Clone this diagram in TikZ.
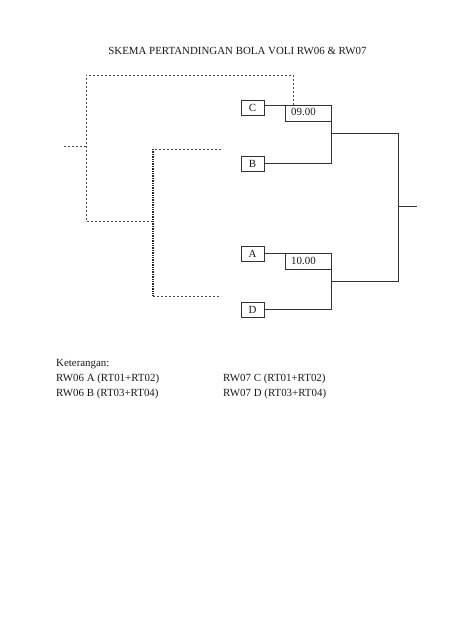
\documentclass[tikz,border=0pt]{standalone}
\usepackage{fontspec}
\setmainfont{Liberation Serif}
\begin{document}
\begin{tikzpicture}[x=1pt,y=-1pt,
  every node/.style={font=\fontsize{10.9}{12}\selectfont, text=black!90},
  team/.style={draw=black!80, line width=0.8pt, minimum width=23pt, minimum height=15pt, inner sep=0pt},
  score/.style={draw=black!80, line width=0.8pt, minimum width=46pt, minimum height=16pt, inner sep=0pt, anchor=north west},
  conn/.style={draw=black!80, line width=0.8pt},
  dashconn/.style={draw=black!70, line width=0.9pt, dash pattern=on 2pt off 2pt},
  dotconn/.style={draw=black!85, line width=1.2pt, dash pattern=on 1.3pt off 1.1pt},
  txt/.style={anchor=base west, inner sep=0pt}]
\useasboundingbox (0,0) rectangle (474,632);

\node[anchor=base, inner sep=0pt] (title) at (237.5,54) {SKEMA PERTANDINGAN BOLA VOLI RW06 \& RW07};

% teams
\node[team] (C) at (252.5,107.5) {C};
\node[team] (B) at (252.5,163.5) {B};
\node[team] (A) at (252.5,253.5) {A};
\node[team] (D) at (252.5,309.5) {D};

% score boxes
\node[score] (s1) at (285,105) {};
\node[txt] (t1) at (291,115.5) {09.00};
\node[score] (s2) at (285,253) {};
\node[txt] (t2) at (291,264) {10.00};

% bracket coordinates
\coordinate (m1) at (331,133.5);
\coordinate (m2) at (331,281);
\coordinate (f1) at (398,133.5);
\coordinate (f2) at (398,281);
\coordinate (fm) at (398,206);
\coordinate (out) at (417,206);

\draw[conn] (C.east |- s1.north) -- (s1.north east) -- (B.east -| s1.north east) -- (B.east);
\draw[conn] (A.east |- s2.north) -- (s2.north east) -- (D.east -| s2.north east) -- (D.east);
\draw[conn] (m1) -- (f1) -- (f2) -- (m2);
\draw[conn] (fm) -- (out);

% dashed paths
\coordinate (o1) at (293,75);
\coordinate (o2) at (86,75);
\coordinate (o3) at (86,221);
\coordinate (o4) at (153,221);
\coordinate (stub) at (64,146);
\coordinate (stubend) at (86,146);
\draw[dashconn] (s1.north -| o1) -- (o1) -- (o2) -- (o3) -- (o4);
\draw[dashconn] (stub) -- (stubend);

\coordinate (i1) at (221,149);
\coordinate (i2) at (153,149);
\coordinate (i3) at (153,296);
\coordinate (i4) at (221,296);
\draw[dashconn] (i1) -- (i2);
\draw[dotconn] (i2) -- (i3);
\draw[dashconn] (i3) -- (i4);

% legend
\node[txt] (ket) at (56,366) {Keterangan:};
\node[txt] (l1) at (56,381) {RW06 A (RT01+RT02)};
\node[txt] (l2) at (56,396) {RW06 B (RT03+RT04)};
\node[txt] (r1) at (223,381) {RW07 C (RT01+RT02)};
\node[txt] (r2) at (223,396) {RW07 D (RT03+RT04)};
\end{tikzpicture}
\end{document}
